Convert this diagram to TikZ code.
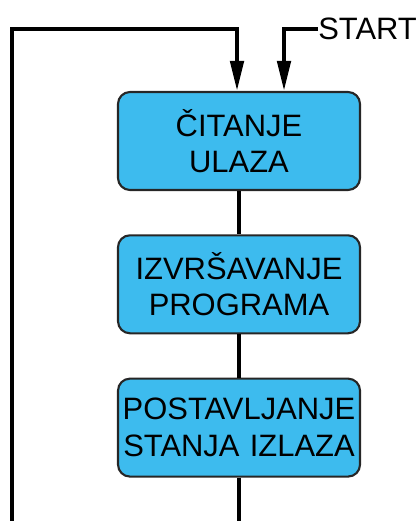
\documentclass[tikz,border=0pt]{standalone}
\usepackage{fontspec}
\setmainfont{Liberation Sans}
\usetikzlibrary{positioning,arrows.meta}
\definecolor{boxblue}{HTML}{3DBBEE}

\begin{document}
\begin{tikzpicture}[
    node distance=1.08cm,
    stage/.style={rectangle,rounded corners=0.3cm,draw=black!85,line width=1.5pt,fill=boxblue,text width=6.05cm,minimum height=2.45cm,align=center,inner sep=0pt,font=\fontsize{22}{26}\selectfont},
    wire/.style={line width=3pt},
    feed/.style={wire,-{Triangle[length=0.75cm,width=0.33cm]}}]
    \useasboundingbox (0,0) rectangle (10.45,-13.025);
    \node[stage] (read) at (5.975,-3.525) {ČITANJE\\ULAZA};
    \node[stage, below=of read] (run) {IZVRŠAVANJE\\PROGRAMA};
    \node[stage, below=of run] (write) {POSTAVLJANJE\\STANJA IZLAZA};
    \node[anchor=west,inner sep=0pt,font=\fontsize{22}{26}\selectfont] (start) at (7.95,-0.725) {START};
    \coordinate (loopend) at (5.975,-13.025);
    \coordinate (loopstart) at (0.3,-13.025);
    \path[wire] (read) edge (run);
    \path[wire] (run) edge (write);
    \path[wire] (write) edge (loopend);
    \draw[feed] (loopstart) -- (0.3,-0.725) -| ([xshift=-0.05cm]read.north);
    \draw[feed] (start.west) -| ([xshift=1.125cm]read.north);
\end{tikzpicture}
\end{document}
